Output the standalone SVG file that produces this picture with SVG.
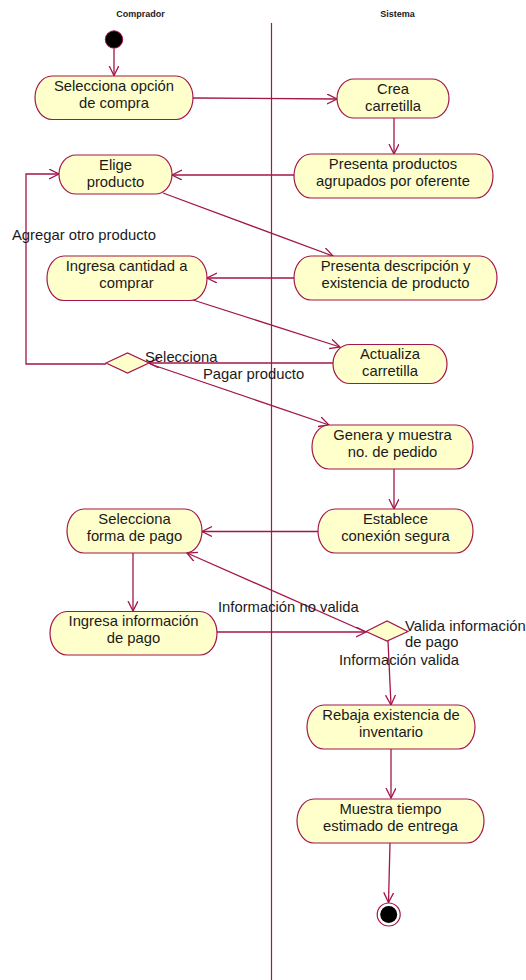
<svg xmlns="http://www.w3.org/2000/svg" width="526" height="980" viewBox="0 0 526 980">
  <style>
    .lane { font-family: "Liberation Sans", Arial, sans-serif; font-size: 9px; font-weight: bold; fill: #1a1a1a; text-anchor: middle; }
    .act rect { fill: #ffffcb; stroke: #a3164b; stroke-width: 1.2; }
    .act text, .lbl { font-family: "Liberation Sans", Arial, sans-serif; font-size: 14.8px; fill: #1a1a1a; }
    .act text { text-anchor: middle; }
    .dec polygon { fill: #ffffcb; stroke: #a3164b; stroke-width: 1.2; }
    .flow path { fill: none; stroke: #a3164b; stroke-width: 1.3; marker-end: url(#arrow); }
    .divider { stroke: #a3164b; stroke-width: 1.2; }
  </style>
  <defs>
    <marker id="arrow" markerUnits="userSpaceOnUse" markerWidth="12" markerHeight="12" refX="10" refY="5" orient="auto" viewBox="0 0 12 12">
      <path d="M0,0 L10,5 L0,10" fill="none" stroke="#a3164b" stroke-width="1.3"/>
    </marker>
  </defs>
  <rect width="526" height="980" fill="#ffffff"/>

  <!-- swimlane headers and divider -->
  <text class="lane" x="140.5" y="17">Comprador</text>
  <text class="lane" x="397.5" y="17">Sistema</text>
  <line class="divider" x1="271.5" y1="23" x2="271.5" y2="980"/>

  <!-- connectors -->
  <g id="connectors" class="flow">
    <path d="M114 49 L114 75.5"/>
    <path d="M193 98 L337 99"/>
    <path d="M394 118 L394 154"/>
    <path d="M301 175 L172 175"/>
    <path d="M163 193 L333 256"/>
    <path d="M302 278 L207 278"/>
    <path d="M193 300 L340 347"/>
    <path d="M333 363 L149 363"/>
    <path d="M106 364 L26 364 L26 174 L59 174"/>
    <path d="M150 364 L329 425"/>
    <path d="M394 469 L394 509"/>
    <path d="M319 531.5 L202 531.5"/>
    <path d="M133 553 L133 611"/>
    <path d="M217 632 L366 632"/>
    <path d="M366 632 L187 553"/>
    <path d="M388 641 L391 705"/>
    <path d="M391 749 L391 798"/>
    <path d="M390 843 L388.5 902.5"/>
  </g>

  <!-- connector labels -->
  <text class="lbl" x="12" y="240">Agregar otro producto</text>
  <text class="lbl" x="145" y="362">Selecciona</text>
  <text class="lbl" x="203" y="379">Pagar producto</text>
  <text class="lbl" x="218" y="612">Información no valida</text>
  <text class="lbl" x="405" y="631">Valida información</text>
  <text class="lbl" x="405" y="647">de pago</text>
  <text class="lbl" x="339" y="665">Información valida</text>

  <!-- initial state -->
  <g id="start">
    <circle cx="114" cy="39.5" r="8.7" fill="#000000" stroke="#a3164b" stroke-width="1"/>
  </g>

  <g id="selecciona-opcion" class="act">
    <rect x="35" y="76" width="158" height="43.5" rx="17" ry="21.75"/>
    <text x="114" y="91">Selecciona opción</text>
    <text x="114" y="108">de compra</text>
  </g>

  <g id="crea-carretilla" class="act">
    <rect x="337" y="79" width="112" height="39" rx="17" ry="19.5"/>
    <text x="393" y="94">Crea</text>
    <text x="393" y="111">carretilla</text>
  </g>

  <g id="presenta-productos" class="act">
    <rect x="294" y="154" width="199" height="44" rx="17" ry="22"/>
    <text x="393" y="169">Presenta productos</text>
    <text x="393" y="186">agrupados por oferente</text>
  </g>

  <g id="elige-producto" class="act">
    <rect x="59" y="155" width="113" height="39" rx="17" ry="19.5"/>
    <text x="115.5" y="170">Elige</text>
    <text x="115.5" y="187">producto</text>
  </g>

  <g id="ingresa-cantidad" class="act">
    <rect x="47" y="256" width="160" height="44.5" rx="17" ry="22"/>
    <text x="126.5" y="271">Ingresa cantidad a</text>
    <text x="126.5" y="288">comprar</text>
  </g>

  <g id="presenta-descripcion" class="act">
    <rect x="294" y="256" width="203" height="44" rx="17" ry="22"/>
    <text x="395.5" y="271">Presenta descripción y</text>
    <text x="395.5" y="288">existencia de producto</text>
  </g>

  <g id="actualiza-carretilla" class="act">
    <rect x="333" y="344.5" width="114" height="39" rx="17" ry="19.5"/>
    <text x="390" y="359">Actualiza</text>
    <text x="390" y="376">carretilla</text>
  </g>

  <g id="decision-pago" class="dec">
    <polygon points="106,363 127.5,353 149,363 127.5,373"/>
  </g>

  <g id="genera-pedido" class="act">
    <rect x="312" y="425" width="161" height="44" rx="17" ry="22"/>
    <text x="392.5" y="440">Genera y muestra</text>
    <text x="392.5" y="457">no. de pedido</text>
  </g>

  <g id="establece-conexion" class="act">
    <rect x="318" y="509" width="155" height="44" rx="17" ry="22"/>
    <text x="395.5" y="524">Establece</text>
    <text x="395.5" y="541">conexión segura</text>
  </g>

  <g id="selecciona-forma" class="act">
    <rect x="67" y="509" width="135" height="44" rx="17" ry="22"/>
    <text x="134.5" y="524">Selecciona</text>
    <text x="134.5" y="541">forma de pago</text>
  </g>

  <g id="ingresa-informacion" class="act">
    <rect x="50" y="611.5" width="167" height="43.5" rx="17" ry="21.75"/>
    <text x="133.5" y="626">Ingresa información</text>
    <text x="133.5" y="643">de pago</text>
  </g>

  <g id="decision-valida" class="dec">
    <polygon points="366,631.5 387,621 408,631.5 387,641"/>
  </g>

  <g id="rebaja-existencia" class="act">
    <rect x="307" y="705" width="168" height="44" rx="17" ry="22"/>
    <text x="391" y="720">Rebaja existencia de</text>
    <text x="391" y="737">inventario</text>
  </g>

  <g id="muestra-tiempo" class="act">
    <rect x="297" y="799" width="187" height="44" rx="17" ry="22"/>
    <text x="390.5" y="814">Muestra tiempo</text>
    <text x="390.5" y="831">estimado de entrega</text>
  </g>

  <!-- final state -->
  <g id="end">
    <circle cx="388.7" cy="914.5" r="11.5" fill="#ffffff" stroke="#a3164b" stroke-width="1.2"/>
    <circle cx="388.7" cy="914.5" r="8.5" fill="#000000"/>
  </g>
</svg>
